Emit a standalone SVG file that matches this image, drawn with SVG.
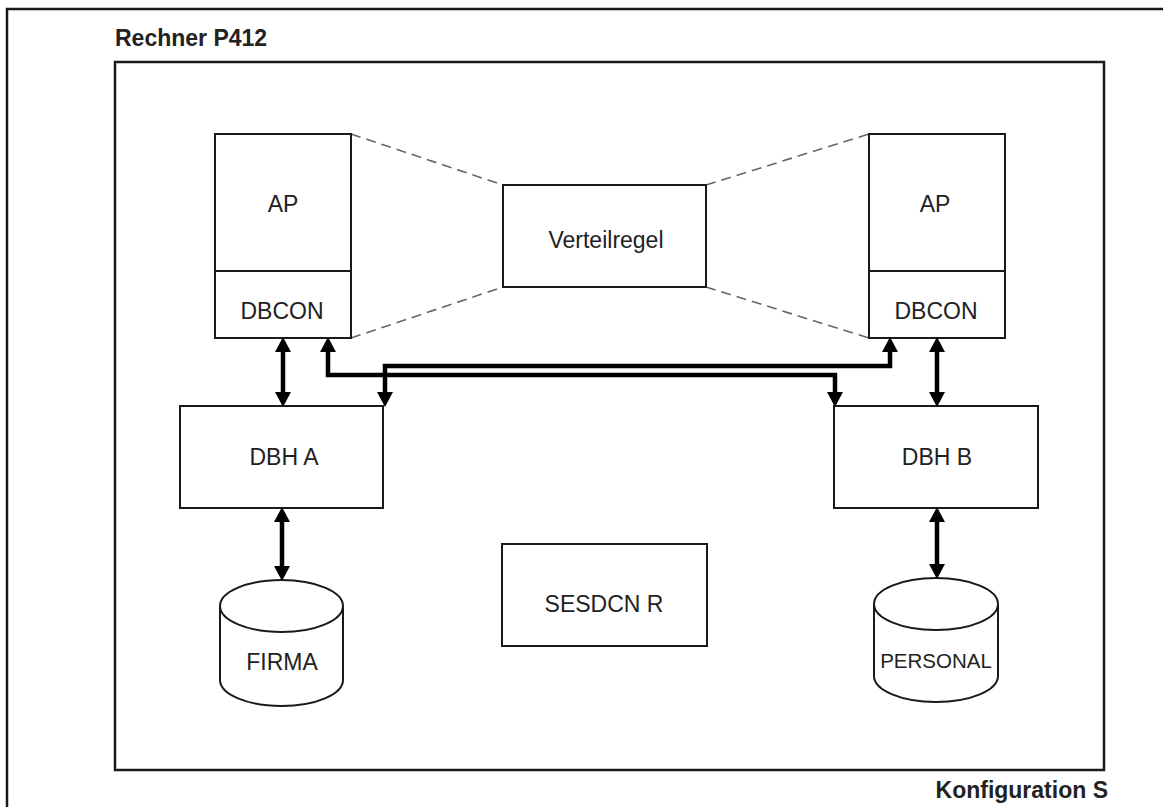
<svg xmlns="http://www.w3.org/2000/svg" width="1163" height="807" viewBox="0 0 1163 807">
<style>
.box{fill:#fff;stroke:#1a1a1a;stroke-width:2}
.lbl{font-family:"Liberation Sans",Arial,sans-serif;font-size:23px;fill:#222;text-anchor:middle}
.title{font-family:"Liberation Sans",Arial,sans-serif;font-size:23px;font-weight:bold;fill:#222}
.dash{stroke:#666;stroke-width:1.6;stroke-dasharray:10 6;fill:none}
.arr{stroke:#000;stroke-width:4.5;fill:none;marker-start:url(#ah);marker-end:url(#ah)}
</style>
<defs>
<marker id="ah" markerUnits="userSpaceOnUse" markerWidth="16" markerHeight="18" refX="8" refY="8" orient="auto-start-reverse" viewBox="0 0 16 16">
<path d="M0,0 L15,8 L0,16 z" fill="#000"/>
</marker>
</defs>
<rect width="1163" height="807" fill="#fff"/>
<g id="frame">
<path d="M7,807 V9 H1163" fill="none" stroke="#1a1a1a" stroke-width="2.5"/>
<text class="title" x="115" y="46">Rechner P412</text>
<rect x="115" y="62" width="989" height="708" fill="none" stroke="#1a1a1a" stroke-width="2.5"/>
<text class="title" x="1108" y="798" text-anchor="end">Konfiguration S</text>
</g>
<g id="dashes">
<line class="dash" x1="351" y1="134" x2="503" y2="185"/>
<line class="dash" x1="351" y1="338" x2="503" y2="287"/>
<line class="dash" x1="706" y1="185" x2="869" y2="134"/>
<line class="dash" x1="706" y1="287" x2="869" y2="338"/>
</g>
<g id="ap-left">
<rect class="box" x="215" y="134" width="136" height="204"/>
<line x1="215" y1="271" x2="351" y2="271" stroke="#1a1a1a" stroke-width="2"/>
<text class="lbl" x="283" y="212">AP</text>
<text class="lbl" x="282" y="319">DBCON</text>
</g>
<g id="ap-right">
<rect class="box" x="869" y="134" width="136" height="204"/>
<line x1="869" y1="271" x2="1005" y2="271" stroke="#1a1a1a" stroke-width="2"/>
<text class="lbl" x="935" y="212">AP</text>
<text class="lbl" x="936" y="319">DBCON</text>
</g>
<g id="verteilregel">
<rect class="box" x="503" y="185" width="203" height="102"/>
<text class="lbl" x="606" y="248">Verteilregel</text>
</g>
<g id="dbh-a">
<rect class="box" x="180" y="406" width="203" height="102"/>
<text class="lbl" x="284" y="465">DBH A</text>
</g>
<g id="dbh-b">
<rect class="box" x="834" y="406" width="204" height="102"/>
<text class="lbl" x="937" y="465">DBH B</text>
</g>
<g id="sesdcn">
<rect class="box" x="502" y="544" width="205" height="102"/>
<text class="lbl" x="604" y="612">SESDCN R</text>
</g>
<g id="firma">
<path class="box" d="M220,606 V680 A61.5,26 0 0 0 343,680 V606"/>
<ellipse class="box" cx="281.5" cy="606" rx="61.5" ry="26"/>
<text class="lbl" x="282" y="670">FIRMA</text>
</g>
<g id="personal">
<path class="box" d="M874,604 V676 A62,26 0 0 0 998,676 V604"/>
<ellipse class="box" cx="936" cy="604" rx="62" ry="26"/>
<text class="lbl" x="936" y="668" style="font-size:20.5px">PERSONAL</text>
</g>
<g id="connectors">
<path class="arr" d="M283,344 V400"/>
<path class="arr" d="M328,344 V375 H835 V400"/>
<path class="arr" d="M385,400 V366 H890 V344"/>
<path class="arr" d="M937,344 V400"/>
<path class="arr" d="M282,514 V574"/>
<path class="arr" d="M937,514 V572"/>
</g>
</svg>
